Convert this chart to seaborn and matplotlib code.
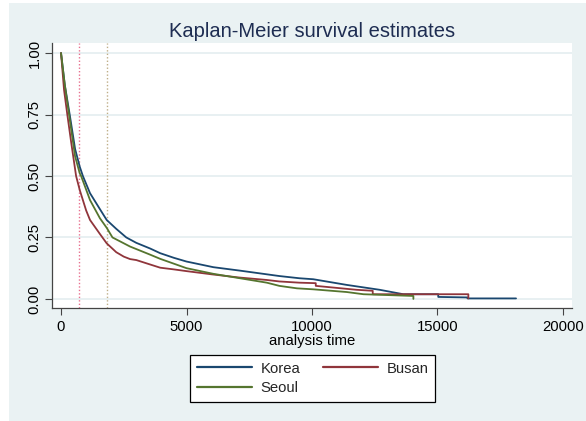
import numpy as np
import pandas as pd
import matplotlib
matplotlib.use("Agg")
import matplotlib.pyplot as plt
import seaborn as sns
from matplotlib.patches import Rectangle

# ---- data ----
korea_time = [0, 150, 345, 560, 745, 870, 1155, 1550, 1820, 2200, 2600, 3000, 3550, 3950,
              4500, 5000, 6070, 7130, 8200, 8700, 9500, 10050, 11380, 12700, 13640, 15030,
              15030, 16200, 16200, 18130]
korea_surv = [1.0, 0.87, 0.75, 0.61, 0.538, 0.50, 0.43, 0.365, 0.321, 0.285, 0.25, 0.228, 0.205,
              0.186, 0.167, 0.152, 0.129, 0.115, 0.100, 0.093, 0.084, 0.080, 0.057, 0.037, 0.019,
              0.019, 0.008, 0.006, 0.002, 0.002]

busan_time = [0, 120, 250, 400, 600, 745, 1000, 1155, 1550, 1820, 2200, 2500, 2750, 3000, 3550,
              3950, 4500, 5000, 6000, 7100, 8200, 8700, 9500, 10150, 10150, 11780, 12420, 12420,
              16230, 16230]
busan_surv = [1.0, 0.85, 0.75, 0.64, 0.50, 0.443, 0.36, 0.321, 0.264, 0.226, 0.19, 0.172, 0.162,
              0.158, 0.14, 0.127, 0.12, 0.113, 0.10, 0.087, 0.077, 0.071, 0.066, 0.064, 0.053,
              0.037, 0.033, 0.019, 0.019, 0.002]

seoul_time = [0, 150, 320, 560, 745, 800, 1155, 1550, 1820, 2050, 2750, 3550, 3950, 5000, 6070,
              7130, 8200, 8700, 9400, 10050, 11380, 12050, 14040, 14040]
seoul_surv = [1.0, 0.87, 0.75, 0.58, 0.511, 0.50, 0.402, 0.328, 0.289, 0.25, 0.213, 0.18, 0.163,
              0.125, 0.102, 0.084, 0.066, 0.053, 0.043, 0.039, 0.028, 0.019, 0.012, 0.0]

regions = ["Korea", "Busan", "Seoul"]
colors = ["#1A476F", "#90353B", "#55752F"]
ref_lines = [730, 1826]
ref_colors = ["#E8708F", "#BFAE88"]
x_ticks = [0, 5000, 10000, 15000, 20000]
y_ticks = [0.0, 0.25, 0.50, 0.75, 1.00]
y_tick_labels = ["0.00", "0.25", "0.50", "0.75", "1.00"]
title = "Kaplan-Meier survival estimates"
x_label = "analysis time"

frames = []
for name, t, s in [("Korea", korea_time, korea_surv),
                   ("Busan", busan_time, busan_surv),
                   ("Seoul", seoul_time, seoul_surv)]:
    frames.append(pd.DataFrame({"time": t, "survival": s, "region": name}))
df = pd.concat(frames, ignore_index=True)

# ---- style ----
sns.set_theme(style="white")
plt.rcParams["font.family"] = ["Liberation Sans", "DejaVu Sans"]

W, H = 586, 421
fig = plt.figure(figsize=(W / 100, H / 100), dpi=100, facecolor="white")
fig.patches.append(Rectangle((9 / W, 0), 1 - 9 / W, 1 - 3 / H, transform=fig.transFigure,
                             facecolor="#EAF2F3", edgecolor="none", zorder=-10))

ax = fig.add_axes([52 / W, 1 - 308 / H, 520 / W, 265 / H])
ax.set_facecolor("white")

for xv, c in zip(ref_lines, ref_colors):
    ax.axvline(xv, color=c, linestyle=(0, (1, 1.5)), linewidth=1.0, zorder=1)

sns.lineplot(data=df, x="time", y="survival", hue="region", hue_order=regions,
             palette=colors, estimator=None, sort=False, linewidth=1.3, ax=ax, zorder=3)

ax.set_xlim(-360, 20360)
ax.set_ylim(-0.037, 1.041)
ax.set_xticks(x_ticks)
ax.set_xticklabels([str(v) for v in x_ticks])
ax.set_yticks(y_ticks)
ax.set_yticklabels(y_tick_labels, rotation=90, va="center")

ax.set_axisbelow(True)
ax.yaxis.grid(True, color="#E4EDF0", linewidth=1.2)
ax.xaxis.grid(False)

for side in ["top", "right"]:
    ax.spines[side].set_visible(False)
for side in ["left", "bottom"]:
    ax.spines[side].set_color("#444444")
    ax.spines[side].set_linewidth(0.9)

ax.tick_params(axis="x", bottom=True, length=5, width=0.8, color="#444444",
               labelsize=10.7, pad=3.5, labelcolor="black")
ax.tick_params(axis="y", left=True, length=5, width=0.8, color="#444444",
               labelsize=10.7, pad=2.5, labelcolor="black")

ax.set_title(title, fontsize=14.5, color="#1E2D52", pad=4.5)
ax.set_xlabel(x_label, fontsize=10.7, labelpad=0.5, color="black")
ax.set_ylabel("")

handles, labels = ax.get_legend_handles_labels()
hmap = dict(zip(labels, handles))
order = ["Korea", "Seoul", "Busan"]
leg = ax.legend([hmap[k] for k in order], order, ncol=2, loc="upper left",
                bbox_to_anchor=(190 / W, 1 - 355 / H), bbox_transform=fig.transFigure,
                frameon=True, fancybox=False, edgecolor="black", framealpha=1,
                fontsize=10.7, handlelength=3.7, handletextpad=0.6, columnspacing=1.5,
                labelspacing=0.35, borderpad=0.45, borderaxespad=0)
leg.get_frame().set_linewidth(0.9)
for h in leg.legend_handles:
    h.set_linewidth(1.6)

fig.savefig("out.png", dpi=100, facecolor=fig.get_facecolor())
